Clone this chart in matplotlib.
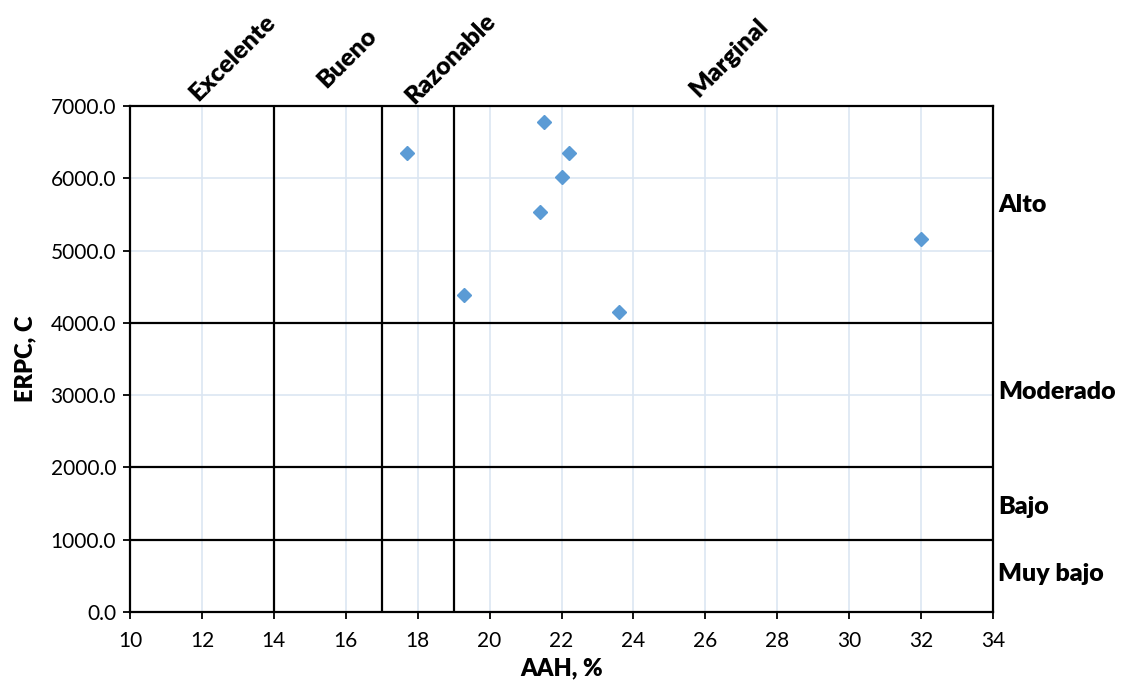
import matplotlib
matplotlib.use("Agg")
import matplotlib.pyplot as plt
from matplotlib.ticker import FormatStrFormatter

plt.rcParams['font.family'] = ['Lato', 'DejaVu Sans']

# data
aah = [17.7, 21.5, 22.2, 22.0, 21.4, 19.3, 23.6, 32.0]
erpc = [6355, 6780, 6345, 6020, 5535, 4390, 4150, 5165]

# class limits
aah_limits = [14, 17, 19]
erpc_limits = [1000, 2000, 4000]

top_labels = ["Excelente", "Bueno", "Razonable", "Marginal"]
top_label_x = [12.85, 16.03, 18.93, 26.66]
right_labels = ["Alto", "Moderado", "Bajo", "Muy bajo"]
right_label_y = [5630, 3040, 1450, 530]


def main():
    fig = plt.figure(figsize=(11.23, 6.87), dpi=100)
    ax = fig.add_axes([0.1158, 0.1092, 0.7684, 0.7365])

    ax.set_xlim(10, 34)
    ax.set_ylim(0, 7000)
    ax.set_xticks(range(10, 35, 2))
    ax.set_yticks(range(0, 7001, 1000))
    ax.yaxis.set_major_formatter(FormatStrFormatter('%.1f'))
    ax.grid(True, color='#dce6f2', linewidth=1.2)
    ax.set_axisbelow(True)

    for x in aah_limits:
        ax.axvline(x, color='black', linewidth=1.6, zorder=2)
    for y in erpc_limits:
        ax.axhline(y, color='black', linewidth=1.6, zorder=2)

    ax.plot(aah, erpc, linestyle='none', marker='D', markersize=7.2,
            color='#5b9bd5', markeredgecolor='#5b9bd5', zorder=3)

    for s in ax.spines.values():
        s.set_color('black')
        s.set_linewidth(1.6)
    ax.tick_params(direction='out', length=5, width=1.3, labelsize=15,
                   colors='black')
    ax.tick_params(axis='x', pad=9)
    ax.tick_params(axis='y', pad=5)

    ax.set_xlabel("AAH, %", fontsize=17, fontweight='heavy', labelpad=4)
    ax.set_ylabel("ERPC, C", fontsize=17, fontweight='heavy', labelpad=10)

    for lab, x in zip(top_labels, top_label_x):
        ax.text(x, 7660, lab, rotation=45, ha='center', va='center',
                fontsize=18, fontweight='heavy', clip_on=False)
    for lab, y in zip(right_labels, right_label_y):
        ax.text(34.15, y, lab, ha='left', va='center',
                fontsize=18, fontweight='heavy', clip_on=False)

    fig.savefig("out.png", dpi=100)


if __name__ == '__main__':
    main()
